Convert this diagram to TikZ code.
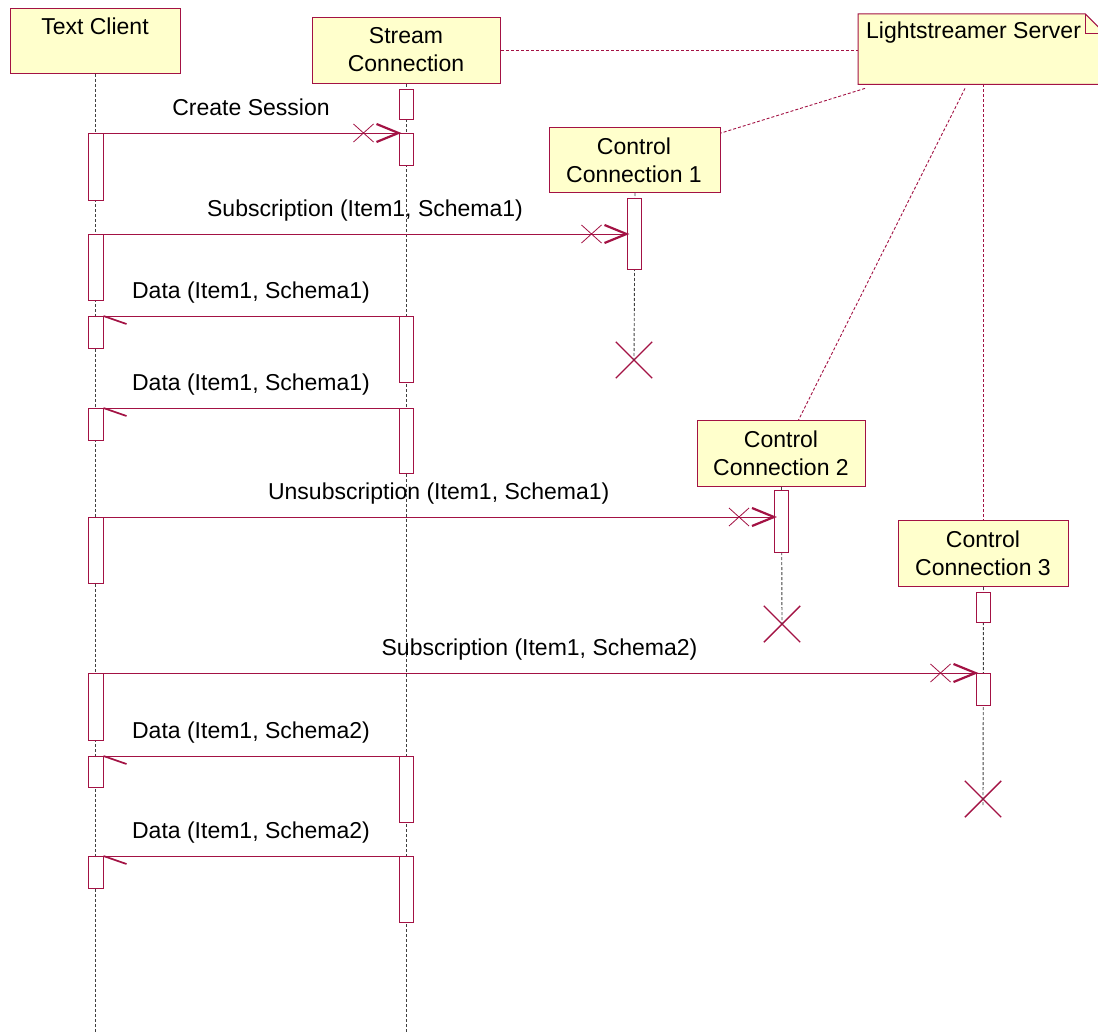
\documentclass[tikz,border=0pt]{standalone}
\usepackage{fontspec}
\setmainfont{Liberation Sans}
\usetikzlibrary{shapes.misc,decorations.markings}
\definecolor{umlred}{RGB}{163,18,68}
\definecolor{umlfill}{RGB}{255,255,204}
\begin{document}
\begin{tikzpicture}[x=1pt,y=-1pt,
  font=\fontsize{23}{27}\selectfont,
  box/.style={draw=umlred, fill=umlfill, line width=1pt, inner sep=0pt, anchor=north west},
  lbl/.style={inner sep=0pt, anchor=base},
  act/.style={draw=umlred, fill=white, line width=1pt, inner sep=0pt, minimum width=14pt, anchor=north},
  life/.style={draw=black!75, dash pattern=on 3pt off 2pt, line width=0.9pt},
  link/.style={draw=umlred, dash pattern=on 3pt off 2pt, line width=0.9pt},
  msg/.style={draw=umlred, line width=1pt},
  destroy/.style={draw=umlred, cross out, line width=1.4pt, minimum size=35pt, inner sep=0pt},
  call/.style={msg, postaction={decorate, decoration={markings,
     mark=at position -35pt with {\draw[umlred, line width=0.8pt] (-10pt,-9pt)--(10pt,9pt) (-10pt,9pt)--(10pt,-9pt);},
     mark=at position 1 with {\draw[umlred, line width=2.2pt] (-22pt,9pt)--(0pt,0pt)--(-22pt,-9pt);}}}},
  reply/.style={msg, postaction={decorate, decoration={markings,
     mark=at position 1 with {\draw[umlred, line width=1.7pt] (0pt,0pt)--(-23pt,8pt);}}}},
]
\fill[white] (0,0) rectangle (1098,1033);
\useasboundingbox (0,0) rectangle (1098,1033);
\clip (0,0) rectangle (1098,1033);
\coordinate (bot) at (0,1033);

% participant boxes (positions)
\node[box, minimum width=170pt, minimum height=65pt] (tc) at (10,8) {};
\node[box, minimum width=188pt, minimum height=66pt] (sc) at (312,17) {};
\node[inner sep=0pt, anchor=north west, minimum width=247pt, minimum height=70pt] (ls) at (858,14) {};
\node[box, minimum width=171pt, minimum height=65pt] (cc1) at (549,127) {};
\node[box, minimum width=168pt, minimum height=66pt] (cc2) at (697,420) {};
\node[box, minimum width=170pt, minimum height=66pt] (cc3) at (898,520) {};

% destruction marks
\node[destroy] (x1) at (634,360) {};
\node[destroy] (x2) at (782,624) {};
\node[destroy] (x3) at (983,799) {};

% lifelines
\draw[life] (tc.south) -- (tc.south |- bot);
\draw[life] (sc.south) -- (sc.south |- bot);
\draw[life] (cc1.south) -- (x1.center);
\draw[life] (cc2.south) -- (x2.center);
\draw[life] (cc3.south) -- ([yshift=-6pt]x3.center);

% note links
\draw[link] (sc.east) -- (sc.east -| ls.west);
\draw[link] ([xshift=7pt,yshift=-4pt]ls.south west) -- ([yshift=-6pt]cc1.north east);
\draw[link] ([xshift=107pt,yshift=-4pt]ls.south west) -- ([xshift=17pt]cc2.north);
\draw[link] (cc3.north |- ls.south) -- (cc3.north);

% Lightstreamer note
\draw[umlred, fill=umlfill, line width=1pt] (ls.north west) -- ([xshift=-20pt]ls.north east)
  -- ([yshift=-20pt]ls.north east) -- (ls.south east) -- (ls.south west) -- cycle;
\draw[umlred, line width=1pt] ([xshift=-20pt]ls.north east) -- ([xshift=-20pt,yshift=-20pt]ls.north east)
  -- ([yshift=-20pt]ls.north east);

% box labels
\node[lbl] at (95,35) {Text Client};
\node[lbl] at (406,44) {Stream};
\node[lbl] at (406,72) {Connection};
\node[lbl, anchor=base west] at (866,39) {Lightstreamer Server};
\node[lbl] at (634,154) {Control};
\node[lbl] at (634,182) {Connection 1};
\node[lbl] at (781,447) {Control};
\node[lbl] at (781,475) {Connection 2};
\node[lbl] at (983,547) {Control};
\node[lbl] at (983,575) {Connection 3};

% activations
\begin{scope}[act/.append style={minimum width=15pt}]
\node[act, minimum height=67pt] (tc1) at (95.5,133) {};
\node[act, minimum height=66pt] (tc2) at (95.5,234) {};
\node[act, minimum height=32pt] (tc3) at (95.5,316) {};
\node[act, minimum height=32pt] (tc4) at (95.5,408) {};
\node[act, minimum height=66pt] (tc5) at (95.5,517) {};
\node[act, minimum height=67pt] (tc6) at (95.5,673) {};
\node[act, minimum height=31pt] (tc7) at (95.5,756) {};
\node[act, minimum height=32pt] (tc8) at (95.5,856) {};
\end{scope}
\node[act, minimum height=30pt] (sc1) at (406,89) {};
\node[act, minimum height=32pt] (sc2) at (406,133) {};
\node[act, minimum height=66pt] (sc3) at (406,316) {};
\node[act, minimum height=65pt] (sc4) at (406,408) {};
\node[act, minimum height=66pt] (sc5) at (406,756) {};
\node[act, minimum height=66pt] (sc6) at (406,856) {};
\node[act, minimum height=71pt] (c1a) at (634,198) {};
\node[act, minimum height=62pt] (c2a) at (781.5,490) {};
\node[act, minimum height=30pt] (c3a) at (983,592) {};
\node[act, minimum height=32pt] (c3b) at (983,673) {};

% messages
\draw[call] (tc1.north east) -- node[lbl, yshift=18pt] {Create Session} (sc2.north west);
\draw[call] (tc2.north east) -- node[lbl, yshift=18pt] {Subscription (Item1, Schema1)} (tc2.north east -| c1a.west);
\draw[reply] (sc3.north west) -- node[lbl, yshift=18pt] {Data (Item1, Schema1)} (tc3.north east);
\draw[reply] (sc4.north west) -- node[lbl, yshift=18pt] {Data (Item1, Schema1)} (tc4.north east);
\draw[call] (tc5.north east) -- node[lbl, yshift=18pt] {Unsubscription (Item1, Schema1)} (tc5.north east -| c2a.west);
\draw[call] (tc6.north east) -- node[lbl, yshift=18pt] {Subscription (Item1, Schema2)} (c3b.north west);
\draw[reply] (sc5.north west) -- node[lbl, yshift=18pt] {Data (Item1, Schema2)} (tc7.north east);
\draw[reply] (sc6.north west) -- node[lbl, yshift=18pt] {Data (Item1, Schema2)} (tc8.north east);
\end{tikzpicture}
\end{document}
